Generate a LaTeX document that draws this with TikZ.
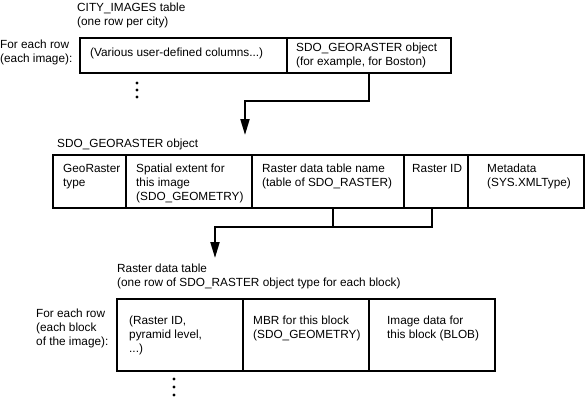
\documentclass[tikz,border=0pt]{standalone}
\usepackage{fontspec}
\setmainfont{Liberation Sans}
\usetikzlibrary{arrows.meta}
\newcommand{\lines}[1]{\begin{tabular}[t]{@{}l@{}}#1\end{tabular}}
\tikzset{
  cellbox/.style={draw, line width=2pt, rectangle, inner sep=0pt},
  lbl/.style={anchor=base west, inner sep=0pt, font=\fontsize{11.8}{14}\selectfont},
  conn/.style={line width=2pt, line join=miter},
  tip/.style={-{Triangle[length=16pt,width=9pt]}},
  dot/.style={circle, fill, inner sep=0pt, minimum size=3.2pt}
}
\begin{document}
\begin{tikzpicture}[x=1pt,y=-1pt]
\useasboundingbox (0,0) rectangle (586,400);
% ---------- CITY_IMAGES table ----------
\node[lbl] (t1a) at (77,11) {\lines{CITY\_IMAGES table\\(one row per city)}};
\node[lbl] (t1b) at (0,48) {\lines{For each row\\(each image):}};
\node[cellbox, minimum width=207pt, minimum height=35pt] (cv) at (183.5,55.5) {};
\node[cellbox, minimum width=164pt, minimum height=35pt] (cg) at (369,55.5) {};
\node[lbl] (cvt) at (90,56) {\lines{(Various user-defined columns...)}};
\node[lbl] (cgt) at (296,51) {\lines{SDO\_GEORASTER object\\(for example, for Boston)}};
\node[dot] (d1) at (137,83) {};
\node[dot] (d2) at (137,90) {};
\node[dot] (d3) at (137,97) {};
\coordinate (j1) at (245,101);
\coordinate (p1) at (245,135);
\draw[conn, tip] (cg.south) |- (j1) -- (p1);
% ---------- SDO_GEORASTER object ----------
\node[lbl] (t2a) at (57,147) {\lines{SDO\_GEORASTER object}};
\node[cellbox, minimum width=73pt, minimum height=53pt] (b1) at (89.5,181.5) {};
\node[cellbox, minimum width=126pt, minimum height=53pt] (b2) at (189,181.5) {};
\node[cellbox, minimum width=152pt, minimum height=53pt] (b3) at (328,181.5) {};
\node[cellbox, minimum width=64pt, minimum height=53pt] (b4) at (436,181.5) {};
\node[cellbox, minimum width=116pt, minimum height=53pt] (b5) at (526,181.5) {};
\node[lbl] (b1t) at (63,172) {\lines{GeoRaster\\type}};
\node[lbl] (b2t) at (136,172) {\lines{Spatial extent for\\this image\\(SDO\_GEOMETRY)}};
\node[lbl] (b3t) at (262,172) {\lines{Raster data table name\\(table of SDO\_RASTER)}};
\node[lbl] (b4t) at (412,172) {\lines{Raster ID}};
\node[lbl] (b5t) at (487,172) {\lines{Metadata\\(SYS.XMLType)}};
\coordinate (j2) at (432,227);
\coordinate (j3) at (215,227);
\coordinate (p2) at (215,258);
\draw[conn] ([xshift=5pt]b3.south) |- (j2);
\draw[conn, tip] ([xshift=-4pt]b4.south) |- (j3) -- (p2);
% ---------- Raster data table ----------
\node[lbl] (t3a) at (117,272) {\lines{Raster data table\\(one row of SDO\_RASTER object type for each block)}};
\node[lbl] (t3b) at (36,317) {\lines{For each row\\(each block\\of the image):}};
\node[cellbox, minimum width=126pt, minimum height=72pt] (r1) at (180,335) {};
\node[cellbox, minimum width=126pt, minimum height=72pt] (r2) at (306,335) {};
\node[cellbox, minimum width=126pt, minimum height=72pt] (r3) at (432,335) {};
\node[lbl] (r1t) at (129,324) {\lines{(Raster ID,\\pyramid level,\\...)}};
\node[lbl] (r2t) at (253,324) {\lines{MBR for this block\\(SDO\_GEOMETRY)}};
\node[lbl] (r3t) at (387,324) {\lines{Image data for\\this block (BLOB)}};
\node[dot] (e1) at (174,379) {};
\node[dot] (e2) at (174,387) {};
\node[dot] (e3) at (174,395) {};
\end{tikzpicture}
\end{document}
